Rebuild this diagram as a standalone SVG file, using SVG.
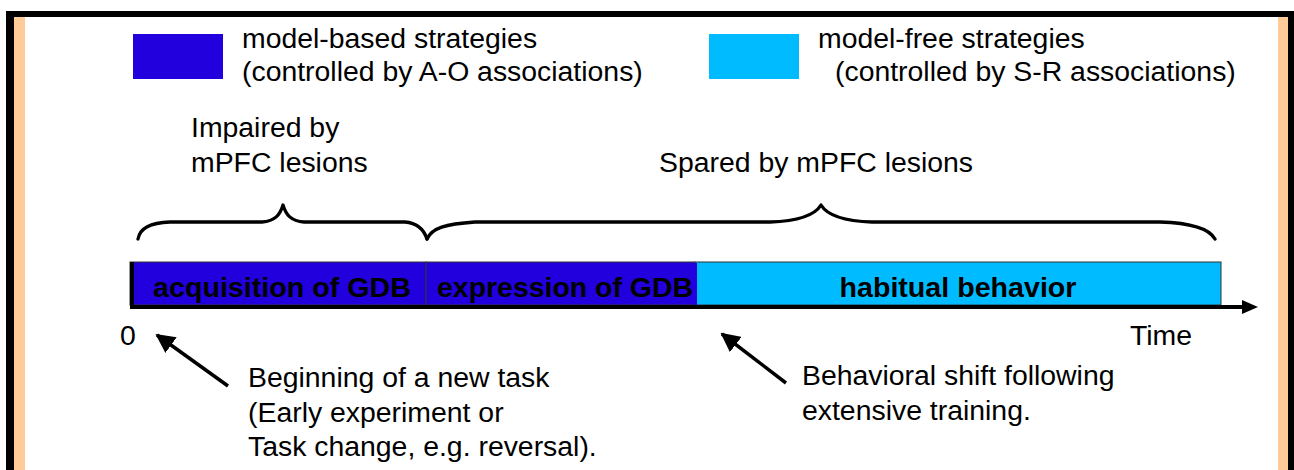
<svg xmlns="http://www.w3.org/2000/svg" width="1294" height="470" viewBox="0 0 1294 470">
<defs>
<style>
.t{font-family:"Liberation Sans",Arial,sans-serif;font-size:28.4px;fill:#000}
.b{font-family:"Liberation Sans",Arial,sans-serif;font-size:28px;font-weight:bold;fill:#000}
.brace{fill:none;stroke:#000;stroke-width:3.3;stroke-linecap:round;stroke-linejoin:round}
.arr{stroke:#000;stroke-width:3.5;fill:none}
</style>
<marker id="ah" viewBox="0 0 10 10" refX="9" refY="5" markerWidth="5.5" markerHeight="5.5" orient="auto" markerUnits="strokeWidth">
<path d="M0,0 L10,5 L0,10 Z" fill="#000"/>
</marker>
</defs>
<rect width="1294" height="470" fill="#fff"/>
<g id="frame">
<rect x="6" y="11" width="1288" height="6" fill="#000"/>
<rect x="6" y="11" width="8" height="459" fill="#000"/>
<rect x="1288" y="11" width="6" height="459" fill="#000"/>
<rect x="14" y="17" width="11" height="453" fill="#FFCC99"/>
<rect x="1278" y="17" width="10" height="453" fill="#FFCC99"/>
</g>
<g id="legend-model-based">
<rect x="133" y="34" width="90" height="45" fill="#2200DD"/>
<text class="t" x="242" y="48">model-based strategies</text>
<text class="t" x="242" y="81">(controlled by A-O associations)</text>
</g>
<g id="legend-model-free">
<rect x="709" y="34" width="90" height="45" fill="#00BBFF"/>
<text class="t" x="818" y="48">model-free strategies</text>
<text class="t" x="835" y="81">(controlled by S-R associations)</text>
</g>
<g id="label-impaired">
<text class="t" x="191" y="137">Impaired by</text>
<text class="t" x="191" y="172">mPFC lesions</text>
</g>
<g id="label-spared">
<text class="t" x="659" y="172">Spared by mPFC lesions</text>
</g>
<g id="braces">
<path class="brace" d="M138,239 C140,228 150,223 170,222 L262,222 C275,221 280,215 283,205 C286,215 291,221 304,222 L405,222 C418,223 424,230 427,239"/>
<path class="brace" d="M427,239 C432,228 445,224 475,222 L770,222 C800,221 815,215 821,205 C827,215 842,221 872,222 L1160,222 C1195,223 1210,230 1215,239"/>
</g>
<g id="node-acquisition">
<rect x="130" y="262" width="296" height="43" fill="#2200DD" stroke="#333" stroke-width="1"/>
<text class="b" x="153" y="297" textLength="258" lengthAdjust="spacingAndGlyphs">acquisition of GDB</text>
</g>
<g id="node-expression">
<rect x="426" y="262" width="269" height="43" fill="#2200DD" stroke="#333" stroke-width="1"/>
<text class="b" x="437" y="297" textLength="256" lengthAdjust="spacingAndGlyphs">expression of GDB</text>
</g>
<g id="node-habitual">
<rect x="695" y="262" width="526" height="43" fill="#00BBFF" stroke="#333" stroke-width="1"/>
<rect x="694" y="263" width="3" height="42" fill="#2200DD"/>
<text class="b" x="958" y="297" text-anchor="middle" textLength="237" lengthAdjust="spacingAndGlyphs">habitual behavior</text>
</g>
<g id="connectors">
<rect x="130" y="262" width="4" height="47" fill="#000"/>
<line x1="130" y1="307" x2="1244" y2="307" stroke="#000" stroke-width="4"/>
<path d="M1242,300 L1258,307 L1242,314 Z" fill="#000"/>
<line class="arr" x1="228" y1="386" x2="157" y2="335" marker-end="url(#ah)"/>
<line class="arr" x1="786" y1="383" x2="722" y2="334" marker-end="url(#ah)"/>
</g>
<g id="axis-labels">
<text class="t" x="120" y="345">0</text>
<text class="t" x="1130" y="345">Time</text>
</g>
<g id="note-beginning">
<text class="t" x="248" y="387">Beginning of a new task</text>
<text class="t" x="248" y="422">(Early experiment or</text>
<text class="t" x="248" y="456">Task change, e.g. reversal).</text>
</g>
<g id="note-shift">
<text class="t" x="802" y="385">Behavioral shift following</text>
<text class="t" x="802" y="420">extensive training.</text>
</g>
</svg>
